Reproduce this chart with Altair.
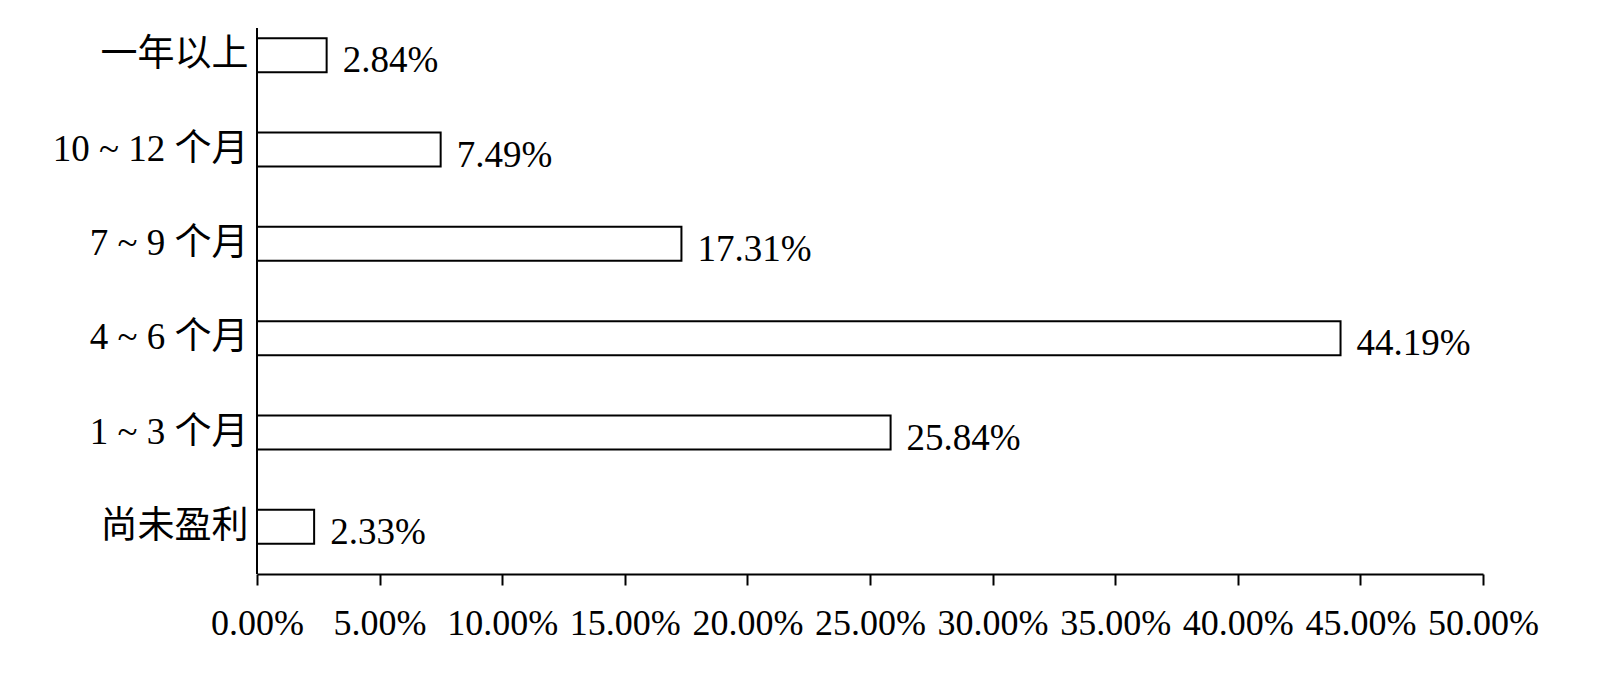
import altair as alt
import pandas as pd

categories = ["一年以上", "10 ~ 12 个月", "7 ~ 9 个月", "4 ~ 6 个月", "1 ~ 3 个月", "尚未盈利"]
values = [2.84, 7.49, 17.31, 44.19, 25.84, 2.33]
x_ticks = [0, 5, 10, 15, 20, 25, 30, 35, 40, 45, 50]

df = pd.DataFrame({"cat": categories, "val": values})
df["label"] = [f"{v:.2f}%" for v in values]

W, H = 1226, 566
MIXED = "Liberation Serif, Noto Sans CJK SC"

y_enc = alt.Y("cat:N", sort=categories, title=None,
              scale=alt.Scale(paddingInner=0, paddingOuter=0),
              axis=alt.Axis(domain=False, ticks=False, tickSize=0, labelPadding=9,
                            labelFont=MIXED, labelFontSize=37, labelColor="black",
                            labelFontWeight="normal", labelLimit=500))
x_enc = alt.X("val:Q", title=None,
              scale=alt.Scale(domain=[0, 50], nice=False, zero=True),
              axis=alt.Axis(values=x_ticks, grid=False, domainColor="black", domainWidth=2,
                            tickColor="black", tickWidth=2, tickSize=11, labelPadding=21,
                            labelFont="Liberation Serif", labelFontSize=36, labelColor="black",
                            labelExpr="format(datum.value, '.2f') + '%'",
                            labelOverlap=False, labelFlush=False))

bars = alt.Chart(df).mark_bar(size=34, fill="white", stroke="black", strokeWidth=2).encode(
    x=x_enc, y=y_enc)

text = alt.Chart(df).mark_text(align="left", baseline="alphabetic", dx=16, dy=17,
                               font="Liberation Serif", fontSize=37, color="black").encode(
    x=alt.X("val:Q"), y=alt.Y("cat:N", sort=categories), text="label:N")

yline = alt.Chart(df).mark_rule(stroke="black", strokeWidth=2).encode(
    x=alt.value(0), y=alt.value(20), y2=alt.value(H))

chart = alt.layer(bars, text, yline).properties(
    width=W, height=H,
    background="white",
    autosize=alt.AutoSizeParams(type="none"),
    padding={"left": 249, "top": 0, "right": 100, "bottom": 80},
).configure_view(strokeWidth=0)

chart.save("out.html", embed_options={"renderer": "svg", "actions": False})
